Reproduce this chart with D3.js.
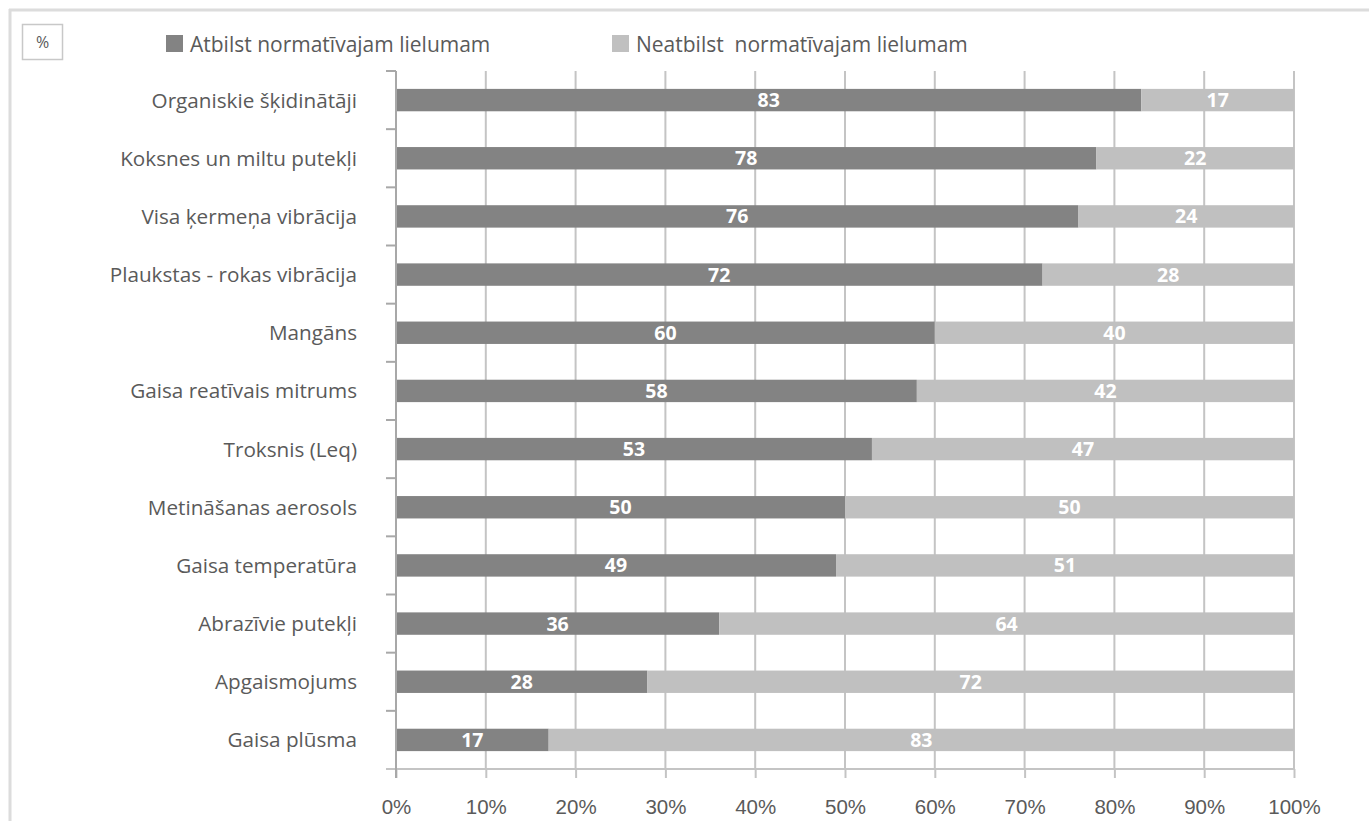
<!DOCTYPE html>
<html>
<head>
<meta charset="utf-8">
<script src="https://cdn.jsdelivr.net/npm/d3@7"></script>
<style>
  html, body { margin: 0; padding: 0; background: #fff; }
  svg { display: block; font-family: "Open Sans", "Noto Sans", sans-serif; }
</style>
</head>
<body>
<svg id="chart" width="1369" height="821"></svg>
<script>
// Share of measurements meeting / not meeting the normative value, %
const categories = [
  "Organiskie šķidinātāji",
  "Koksnes un miltu putekļi",
  "Visa ķermeņa vibrācija",
  "Plaukstas - rokas vibrācija",
  "Mangāns",
  "Gaisa reatīvais mitrums",
  "Troksnis (Leq)",
  "Metināšanas aerosols",
  "Gaisa temperatūra",
  "Abrazīvie putekļi",
  "Apgaismojums",
  "Gaisa plūsma"
];
const compliant    = [83, 78, 76, 72, 60, 58, 53, 50, 49, 36, 28, 17];
const nonCompliant = [17, 22, 24, 28, 40, 42, 47, 50, 51, 64, 72, 83];
const seriesNames  = ["Atbilst normatīvajam lielumam", "Neatbilst  normatīvajam lielumam"];
const xTicks = [0, 10, 20, 30, 40, 50, 60, 70, 80, 90, 100];
const unitLabel = "%";

const colors = ["#838383", "#c0c0c0"];
const textColor = "#5a5a5a";
const gridColor = "#c4c4c4";

const svg = d3.select("#chart");

// outer frame (top and left edges)
svg.append("line").attr("x1", 9).attr("x2", 1369).attr("y1", 10).attr("y2", 10)
  .attr("stroke", "#dcdcdc").attr("stroke-width", 3);
svg.append("line").attr("x1", 10).attr("x2", 10).attr("y1", 9).attr("y2", 821)
  .attr("stroke", "#dcdcdc").attr("stroke-width", 3);

const plot = { left: 396, right: 1294, top: 71, bottom: 769 };

const x = d3.scaleLinear().domain([0, 100]).range([plot.left, plot.right]);
const y = d3.scaleBand().domain(categories)
  .range([plot.top, plot.bottom])
  .paddingInner(0.615).paddingOuter(0.3075);

// vertical grid lines
svg.append("g").selectAll("line")
  .data(xTicks.slice(1))
  .join("line")
  .attr("x1", d => x(d)).attr("x2", d => x(d))
  .attr("y1", plot.top).attr("y2", plot.bottom)
  .attr("stroke", gridColor).attr("stroke-width", 2);

// stacked bars
const rows = categories.map((c, i) => ({ cat: c, vals: [compliant[i], nonCompliant[i]] }));
const segs = [];
rows.forEach(r => {
  let acc = 0;
  r.vals.forEach((v, k) => {
    segs.push({ cat: r.cat, k, v, x0: acc, x1: acc + v });
    acc += v;
  });
});

svg.append("g").selectAll("rect")
  .data(segs)
  .join("rect")
  .attr("x", d => x(d.x0))
  .attr("width", d => x(d.x1) - x(d.x0))
  .attr("y", d => y(d.cat))
  .attr("height", y.bandwidth())
  .attr("fill", d => colors[d.k]);

svg.append("g").selectAll("text")
  .data(segs)
  .join("text")
  .attr("x", d => x((d.x0 + d.x1) / 2))
  .attr("y", d => y(d.cat) + y.bandwidth() / 2)
  .attr("dy", "0.36em")
  .attr("text-anchor", "middle")
  .attr("fill", "#ffffff")
  .attr("font-weight", 700)
  .attr("font-size", 19.5)
  .text(d => d.v);

// x axis with ticks below the baseline
const xAxis = svg.append("g")
  .attr("transform", `translate(0,${plot.bottom})`)
  .call(d3.axisBottom(x).tickValues(xTicks).tickFormat(d => d + "%").tickSize(9).tickSizeOuter(0));
xAxis.select(".domain").remove();
xAxis.selectAll(".tick line").attr("stroke", gridColor).attr("stroke-width", 2);
xAxis.selectAll(".tick text")
  .attr("y", 45).attr("dy", null)
  .attr("fill", textColor).attr("font-size", 20.5).attr("font-family", null);
svg.append("line")
  .attr("x1", plot.left - 10).attr("x2", plot.right)
  .attr("y1", plot.bottom).attr("y2", plot.bottom)
  .attr("stroke", gridColor).attr("stroke-width", 2);

// y axis: boundary ticks between categories, labels centred in bands
const bounds = d3.range(categories.length + 1).map(i => plot.top + i * y.step());
const yLine = svg.append("g");
yLine.append("line")
  .attr("x1", plot.left).attr("x2", plot.left)
  .attr("y1", plot.top).attr("y2", plot.bottom + 9)
  .attr("stroke", "#a8a8a8").attr("stroke-width", 2);
yLine.selectAll("line.tk")
  .data(bounds.slice(0, -1))
  .join("line").attr("class", "tk")
  .attr("x1", plot.left - 10).attr("x2", plot.left)
  .attr("y1", d => d).attr("y2", d => d)
  .attr("stroke", "#a8a8a8").attr("stroke-width", 2);

svg.append("g").selectAll("text")
  .data(categories)
  .join("text")
  .attr("x", 357)
  .attr("y", d => y(d) + y.bandwidth() / 2)
  .attr("dy", "0.36em")
  .attr("text-anchor", "end")
  .attr("fill", textColor)
  .attr("font-size", 20.7)
  .text(d => d);

// unit box
svg.append("rect").attr("x", 22.5).attr("y", 24.5).attr("width", 40).attr("height", 35)
  .attr("fill", "#fff").attr("stroke", "#c8c8c8").attr("stroke-width", 1.5);
svg.append("text").attr("x", 42.5).attr("y", 42).attr("dy", "0.36em")
  .attr("text-anchor", "middle").attr("fill", textColor).attr("font-size", 16)
  .text(unitLabel);

// legend
const legendX = [166, 612];
const lg = svg.append("g").selectAll("g")
  .data(seriesNames)
  .join("g")
  .attr("transform", (d, i) => `translate(${legendX[i]},35)`);
lg.append("rect").attr("width", 17).attr("height", 17).attr("fill", (d, i) => colors[i]);
lg.append("text").attr("x", 24).attr("y", 9).attr("dy", "0.36em")
  .attr("fill", textColor).attr("font-size", 21)
  .attr("xml:space", "preserve").style("white-space", "pre")
  .text(d => d);
</script>
</body>
</html>
